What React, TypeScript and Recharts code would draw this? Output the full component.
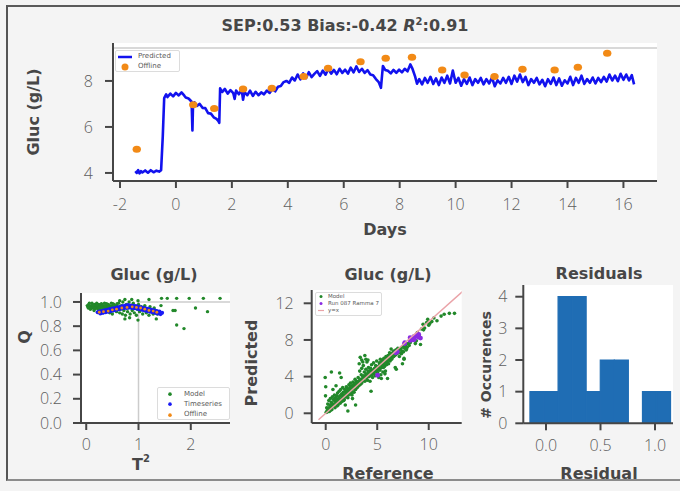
import React from 'react';
import {
  ComposedChart, ScatterChart, BarChart, Line, Scatter, Bar, XAxis, YAxis,
  CartesianGrid, Legend, ReferenceLine,
} from 'recharts';

// ---------------- Top chart: glucose time series ----------------
const predicted: [number, number][] = [
  [-1.45, 4.08], [-1.4, 4.0], [-1.35, 4.12], [-1.3, 3.98], [-1.25, 4.08], [-1.2, 4.02], [-1.1, 4.11], [-1.0, 4.01],
  [-0.9, 4.12], [-0.8, 4.03], [-0.7, 4.1], [-0.6, 4.06], [-0.53, 4.12], [-0.47, 5.6], [-0.42, 7.25], [-0.35, 7.42],
  [-0.3, 7.3], [-0.2, 7.45], [-0.1, 7.33], [0.0, 7.48], [0.1, 7.37], [0.2, 7.5], [0.3, 7.36], [0.35, 7.28],
  [0.45, 7.24], [0.52, 7.15], [0.56, 7.1], [0.59, 5.85], [0.61, 6.9], [0.66, 7.07], [0.75, 6.92], [0.85, 7.0],
  [0.95, 6.83], [1.05, 6.82], [1.15, 6.6], [1.25, 6.58], [1.35, 6.42], [1.45, 6.35], [1.52, 6.25], [1.55, 6.18],
  [1.58, 7.68], [1.65, 7.52], [1.75, 7.65], [1.85, 7.45], [1.95, 7.6], [2.05, 7.47], [2.1, 7.22], [2.15, 7.58],
  [2.25, 7.42], [2.35, 7.62], [2.4, 7.18], [2.45, 7.52], [2.55, 7.38], [2.65, 7.58], [2.75, 7.35], [2.85, 7.53],
  [2.95, 7.38], [3.05, 7.5], [3.15, 7.42], [3.25, 7.58], [3.35, 7.48], [3.45, 7.65], [3.55, 7.55], [3.65, 7.75],
  [3.75, 7.78], [3.85, 7.95], [3.95, 8.0], [4.05, 7.92], [4.15, 8.15], [4.25, 8.02], [4.35, 8.28], [4.45, 8.07],
  [4.55, 8.33], [4.65, 8.12], [4.75, 8.38], [4.85, 8.17], [4.95, 8.31], [5.05, 8.43], [5.15, 8.22], [5.25, 8.45],
  [5.35, 8.27], [5.45, 8.53], [5.55, 8.32], [5.65, 8.48], [5.75, 8.29], [5.85, 8.53], [5.95, 8.35], [6.05, 8.49],
  [6.15, 8.32], [6.25, 8.58], [6.35, 8.37], [6.45, 8.63], [6.55, 8.39], [6.65, 8.53], [6.75, 8.35], [6.85, 8.47],
  [6.95, 8.28], [7.05, 8.25], [7.15, 8.08], [7.25, 7.95], [7.33, 7.7], [7.4, 8.65], [7.48, 8.48], [7.58, 8.44],
  [7.68, 8.33], [7.78, 8.48], [7.88, 8.35], [7.98, 8.49], [8.08, 8.37], [8.18, 8.53], [8.28, 8.42], [8.38, 8.72],
  [8.45, 8.55], [8.55, 8.2], [8.62, 7.88], [8.7, 8.08], [8.8, 7.85], [8.9, 8.13], [9.0, 7.92], [9.1, 8.18],
  [9.2, 7.87], [9.3, 8.11], [9.4, 7.82], [9.5, 8.15], [9.6, 7.92], [9.7, 8.23], [9.8, 7.89], [9.9, 8.45],
  [10.0, 7.92], [10.1, 8.13], [10.2, 7.79], [10.3, 8.08], [10.4, 7.87], [10.5, 8.15], [10.6, 7.82], [10.7, 8.08],
  [10.8, 7.92], [10.9, 8.13], [11.0, 7.85], [11.1, 8.08], [11.2, 7.89], [11.3, 8.15], [11.4, 7.77], [11.5, 8.03],
  [11.6, 7.89], [11.7, 8.13], [11.8, 7.92], [11.9, 8.18], [12.0, 7.87], [12.1, 8.23], [12.2, 7.97], [12.3, 8.28],
  [12.4, 7.95], [12.5, 8.18], [12.6, 7.82], [12.7, 8.08], [12.8, 7.92], [12.9, 8.13], [13.0, 7.85], [13.1, 8.05],
  [13.2, 7.77], [13.3, 8.08], [13.4, 7.87], [13.5, 8.15], [13.6, 7.82], [13.7, 8.11], [13.8, 7.79], [13.9, 8.03],
  [14.0, 7.89], [14.1, 8.18], [14.2, 7.82], [14.3, 8.13], [14.4, 7.92], [14.5, 8.23], [14.6, 7.87], [14.7, 8.08],
  [14.8, 7.92], [14.9, 8.15], [15.0, 7.89], [15.1, 8.13], [15.2, 7.95], [15.3, 8.18], [15.4, 7.97], [15.5, 8.28],
  [15.6, 8.02], [15.7, 8.23], [15.8, 7.99], [15.9, 8.31], [16.0, 8.05], [16.1, 8.28], [16.2, 8.02], [16.3, 8.25],
  [16.38, 7.85],
];
const offline: [number, number][] = [
  [-1.4, 5.03], [0.62, 6.96], [1.37, 6.8], [2.4, 7.65], [3.43, 7.68], [4.57, 8.19], [5.44, 8.55], [6.6, 8.84],
  [7.5, 8.99], [8.44, 9.03], [9.52, 8.48], [10.32, 8.26], [11.39, 8.19], [12.39, 8.51], [13.54, 8.48],
  [14.37, 8.6], [15.42, 9.2],
];
const dayTicks = [-2, 0, 2, 4, 6, 8, 10, 12, 14, 16];
const glucTicks = [4, 6, 8];

// ---------------- Bottom-left: Q vs T² ----------------
const modelQ: [number, number][] = [
  [0.02, 0.97], [0.04, 0.95], [0.05, 0.98], [0.07, 0.96], [0.08, 0.94], [0.1, 0.97], [0.11, 0.99], [0.12, 0.95],
  [0.14, 0.96], [0.15, 0.93], [0.16, 0.98], [0.18, 0.97], [0.19, 0.95], [0.2, 0.99], [0.22, 0.96], [0.23, 0.94],
  [0.24, 0.98], [0.26, 0.97], [0.27, 0.95], [0.28, 0.93], [0.3, 0.98], [0.31, 0.96], [0.33, 0.94], [0.34, 0.97],
  [0.35, 0.99], [0.37, 0.95], [0.38, 0.97], [0.4, 0.93], [0.41, 0.96], [0.42, 0.98], [0.44, 0.94], [0.45, 0.97],
  [0.47, 0.95], [0.48, 0.99], [0.5, 0.96], [0.52, 0.93], [0.53, 0.98], [0.55, 0.95], [0.57, 0.97], [0.58, 0.92],
  [0.6, 0.96], [0.62, 0.99], [0.64, 0.91], [0.65, 0.94], [0.67, 0.97], [0.69, 0.9], [0.7, 1.0], [0.72, 0.93],
  [0.74, 0.96], [0.75, 0.89], [0.77, 0.98], [0.79, 0.92], [0.8, 0.95], [0.82, 1.0], [0.84, 0.9], [0.86, 0.97],
  [0.88, 0.93], [0.9, 0.99], [0.92, 0.91], [0.94, 0.96], [0.96, 0.89], [0.98, 0.94], [1.0, 0.98], [1.02, 0.92],
  [1.05, 0.96], [1.08, 0.9], [1.1, 0.95], [1.12, 0.97], [1.15, 0.91], [1.18, 0.94], [1.2, 0.89], [1.22, 0.96],
  [1.25, 0.92], [1.28, 0.9], [1.3, 0.95], [1.33, 0.93], [1.36, 0.9], [1.4, 0.92], [1.43, 0.97],
  [0.03, 0.96], [0.06, 0.99], [0.09, 0.955], [0.13, 0.975], [0.17, 0.945], [0.21, 0.975], [0.25, 0.955],
  [0.29, 0.985], [0.32, 0.945], [0.36, 0.965], [0.39, 0.985], [0.43, 0.955], [0.46, 0.935], [0.49, 0.965],
  [0.51, 0.985], [0.54, 0.94], [0.56, 0.965], [0.59, 0.985],
  [0.64, 1.01], [0.74, 1.02], [0.87, 1.02], [0.99, 1.01], [1.2, 1.02], [1.44, 1.03], [1.55, 1.03], [1.73, 1.03],
  [1.97, 1.03], [2.24, 1.03], [2.56, 1.03], [1.66, 0.93], [1.7, 0.93], [2.09, 0.95], [2.32, 0.92], [1.73, 0.81],
  [1.87, 0.78], [0.74, 0.86], [0.83, 0.87], [0.99, 0.85], [1.34, 0.86], [0.5, 0.9], [0.45, 0.91], [0.35, 0.92],
];
const timeseriesQ: [number, number][] = [
  [0.22, 0.915], [0.25, 0.92], [0.27, 0.905], [0.3, 0.925], [0.32, 0.91], [0.35, 0.93], [0.37, 0.915], [0.4, 0.935],
  [0.42, 0.92], [0.45, 0.94], [0.47, 0.925], [0.5, 0.945], [0.52, 0.93], [0.55, 0.95], [0.57, 0.935], [0.6, 0.955],
  [0.62, 0.94], [0.65, 0.96], [0.67, 0.945], [0.7, 0.965], [0.72, 0.95], [0.75, 0.97], [0.77, 0.95], [0.8, 0.975],
  [0.82, 0.955], [0.85, 0.97], [0.87, 0.95], [0.9, 0.968], [0.92, 0.948], [0.95, 0.965], [0.97, 0.945], [1.0, 0.96],
  [1.02, 0.94], [1.05, 0.955], [1.07, 0.935], [1.1, 0.95], [1.12, 0.93], [1.15, 0.945], [1.17, 0.925], [1.2, 0.94],
  [1.22, 0.92], [1.25, 0.935], [1.27, 0.915], [1.3, 0.93], [1.32, 0.91], [1.35, 0.925], [1.37, 0.905], [1.4, 0.92],
  [1.42, 0.9], [1.45, 0.91],
];
const offlineQ: [number, number][] = [
  [0.25, 0.915], [0.33, 0.92], [0.42, 0.925], [0.5, 0.935], [0.58, 0.94], [0.68, 0.95], [0.78, 0.955],
  [0.88, 0.96], [0.96, 0.955], [1.04, 0.95], [1.12, 0.94], [1.2, 0.93], [1.28, 0.925], [1.35, 0.915],
];
const t2Ticks = [0, 1, 2];
const qTicks = [0, 0.2, 0.4, 0.6, 0.8, 1.0];
const t2Limit = 1;
const qLimit = 1;

// ---------------- Bottom-middle: predicted vs reference ----------------
const modelPred: [number, number][] = [
  [0.05, 0.1], [0.1, 0.6], [0.15, 0.3], [0.2, 1.0], [0.25, 0.5], [0.3, 1.4], [0.35, 0.2], [0.4, 0.9], [0.45, 1.6],
  [0.5, 0.7], [0.55, 1.2], [0.6, 0.4], [0.65, 1.8], [0.7, 1.0], [0.75, 1.5], [0.8, 0.8], [0.85, 2.0], [0.9, 1.3],
  [0.95, 1.7], [1.0, 1.1], [1.05, 1.9], [1.1, 1.4], [1.15, 2.2], [1.2, 0.9], [1.25, 1.6], [1.3, 2.4], [1.35, 1.2],
  [1.4, 1.9], [1.45, 2.6], [1.5, 1.5], [1.55, 2.1], [1.6, 1.7], [1.65, 2.8], [1.7, 2.3], [1.75, 1.4], [1.8, 2.0],
  [1.85, 2.6], [1.9, 1.8], [1.95, 2.4], [2.0, 2.9], [2.05, 2.1], [2.1, 2.7], [2.15, 1.7], [2.2, 2.5], [2.25, 3.1],
  [2.3, 2.2], [2.35, 2.8], [2.4, 3.3], [2.45, 2.4], [2.5, 3.0], [2.55, 2.0], [2.6, 2.7], [2.65, 3.4], [2.7, 2.9],
  [2.75, 2.3], [2.8, 3.2], [2.85, 3.7], [2.9, 2.6], [2.95, 3.1], [3.0, 3.5], [3.05, 2.8], [3.1, 3.3], [3.15, 3.9],
  [3.2, 3.0], [3.25, 5.4], [3.3, 3.6], [3.35, 6.1], [3.4, 3.2], [3.45, 4.2], [3.5, 5.8], [3.55, 3.5], [3.6, 4.0],
  [3.65, 5.2], [3.7, 3.7], [3.75, 4.5], [3.8, 6.3], [3.85, 3.9], [3.9, 4.8], [3.95, 4.1], [4.0, 5.6], [4.05, 3.6],
  [4.1, 4.3], [4.15, 5.0], [4.2, 4.0], [4.25, 4.6], [4.3, 3.5], [4.35, 4.9], [4.4, 4.2], [4.45, 5.3], [4.5, 4.5],
  [4.55, 3.9], [4.6, 4.7], [4.65, 5.5], [4.7, 4.3], [4.75, 4.9], [4.8, 4.1], [4.85, 5.2], [4.9, 4.6], [4.95, 5.7],
  [5.0, 4.8], [5.05, 4.4], [5.1, 5.1], [5.15, 3.9], [5.2, 5.5], [5.25, 4.7], [5.3, 5.9], [5.35, 4.2], [5.4, 5.3],
  [5.45, 5.0], [5.5, 5.8], [5.55, 4.5], [5.6, 5.4], [5.65, 6.0], [5.7, 5.1], [5.75, 4.3], [5.8, 5.7], [5.85, 6.2],
  [5.9, 5.3], [5.95, 5.9], [6.0, 5.5], [6.05, 6.3], [6.1, 5.4], [6.15, 6.0], [6.2, 6.6], [6.25, 5.7], [6.3, 6.4],
  [6.35, 7.0], [6.4, 5.9], [6.45, 6.5], [6.5, 6.1], [6.6, 6.8], [6.7, 6.3], [6.75, 5.0], [6.8, 6.9], [6.85, 4.8],
  [6.9, 6.5], [7.0, 7.1], [7.05, 6.6], [7.15, 6.2], [7.25, 7.0], [7.35, 6.5], [7.45, 5.4], [7.5, 7.3], [7.6, 6.0],
  [7.7, 7.5], [7.8, 6.9], [7.9, 7.2], [8.0, 7.6], [8.1, 7.4], [8.3, 7.9], [8.5, 8.3], [8.7, 7.6], [8.9, 8.8],
  [9.1, 8.4], [9.3, 9.2], [9.45, 9.7], [9.6, 9.3], [9.8, 9.9], [9.9, 10.25], [10.1, 9.8], [10.5, 10.4],
  [10.8, 10.1], [11.2, 10.6], [11.5, 10.8], [12.0, 10.9], [12.5, 10.9], [-0.05, 3.9], [0.0, 2.9], [-0.02, 1.9],
  [0.55, 4.5], [1.35, 4.4], [1.5, 3.9], [2.15, 0.25], [0.15, 0.15], [1.0, 3.0], [0.7, 2.6], [2.9, 0.9],
  [6.0, 3.8], [7.6, 5.9], [4.4, 2.4], [9.2, 7.5], [8.8, 7.9],
  [0.3, 0.6], [0.45, 0.3], [0.6, 1.0], [0.75, 0.9], [0.9, 0.6], [1.0, 1.6], [1.1, 0.8], [1.2, 1.3], [1.3, 1.8],
  [1.4, 1.1], [1.5, 2.0], [1.6, 1.3], [1.7, 1.9], [1.8, 1.5], [1.9, 2.3], [2.0, 1.8], [2.1, 2.3], [2.2, 2.0],
  [2.3, 2.6], [2.4, 2.1], [2.5, 2.6], [2.6, 2.3], [2.7, 3.1], [2.8, 2.6], [2.9, 3.3], [3.0, 3.0], [3.1, 2.9],
  [3.2, 3.5], [3.3, 3.1], [3.4, 3.7], [3.5, 3.3], [3.6, 3.8], [3.7, 4.1], [3.8, 3.5], [3.9, 4.3], [4.0, 3.9],
  [4.1, 4.6], [4.2, 4.4], [4.3, 4.1], [4.4, 4.7], [4.5, 4.2], [4.6, 4.5], [4.7, 4.8], [4.8, 4.6], [4.9, 5.0],
  [5.0, 4.5], [5.1, 4.8], [5.2, 5.2], [5.3, 4.9], [5.4, 5.6], [5.5, 5.2], [5.6, 5.0], [5.7, 5.6], [5.8, 5.3],
  [5.9, 5.7], [6.0, 6.0], [6.1, 5.8], [6.2, 6.2], [6.3, 5.9], [6.4, 6.3], [6.5, 6.6], [6.6, 6.2], [6.7, 6.6],
  [6.8, 6.4], [6.9, 6.9], [7.0, 6.6], [7.1, 6.9], [7.2, 6.6], [7.3, 7.1], [7.4, 6.8], [7.55, 6.7], [7.65, 7.1],
  [7.75, 7.3], [7.85, 7.0], [8.2, 7.7], [8.4, 8.0], [8.6, 8.4], [9.0, 8.6], [9.5, 9.1], [10.0, 9.6], [10.3, 10.0],
  [3.3, 4.6], [3.6, 5.6], [3.9, 5.9], [3.5, 4.9], [4.1, 5.8], [2.6, 1.6], [1.9, 0.9], [5.4, 3.8], [5.8, 4.6],
];
const runPred: [number, number][] = [
  [5.03, 4.15], [6.96, 6.7], [6.8, 6.6], [7.65, 7.6], [7.68, 7.7], [8.19, 8.25], [8.55, 8.35], [8.84, 8.55],
  [8.99, 8.3], [9.03, 8.6], [8.48, 8.05], [8.26, 8.1], [8.19, 7.95], [8.51, 8.2], [8.48, 8.0], [8.6, 8.05],
  [9.2, 8.2],
];
const identityLine: [number, number][] = [[-0.7, -0.7], [13.3, 13.3]];
const refTicks = [0, 5, 10];
const predTicks = [0, 4, 8, 12];

// ---------------- Bottom-right: residual histogram ----------------
const residualCenters = [-0.0825, 0.0465, 0.1755, 0.3045, 0.4335, 0.5625, 0.6915, 0.8205, 0.9495, 1.0785];
const residualCounts = [1, 1, 4, 4, 1, 2, 2, 0, 1, 1];
const residualTicks = [0, 0.5, 1.0];
const countTicks = [0, 1, 2, 3, 4];

// ---------------- styles ----------------
const FONT = "'DejaVu Sans', 'Liberation Sans', sans-serif";
const TICK_FONT = "'Open Sans', 'DejaVu Sans', sans-serif";
const AXIS = '#464646';
const BLUE_LINE = '#1212ee';
const ORANGE = '#f28a16';
const GREEN = '#22882a';
const BLUE = '#1a1af5';
const PURPLE = '#8a2be2';
const PINK = '#eaa3a8';
const BAR = '#1f6db4';

const tickStyle = { fontFamily: TICK_FONT, fontWeight: 300, fontSize: 16, fill: '#5e5e5e' };
const lineStyle = { stroke: AXIS, strokeWidth: 2 };

const toXY = (arr: [number, number][]) => arr.map(([x, y]) => ({ x, y }));

const AxisTitle = ({ x, y, angle = 0, size = 16, children }: any) => (
  <text
    x={x}
    y={y}
    textAnchor="middle"
    dominantBaseline="central"
    transform={angle ? `rotate(${angle} ${x} ${y})` : undefined}
    fontFamily={FONT}
    fontWeight={700}
    fontSize={size}
    fill="#474747"
  >
    {children}
  </text>
);

const dot = (color: string, r: number) => (p: any) => <circle cx={p.cx} cy={p.cy} r={r} fill={color} />;
const ellipse = (p: any) => <ellipse cx={p.cx} cy={p.cy} rx={4.2} ry={3.5} fill={ORANGE} />;
const noShape = () => <g />;

type LegendCfg = {
  order: string[];
  width: number;
  height: number;
  rowH: number;
  padTop: number;
  markerW: number;
  gap: number;
  fontSize: number;
  dotR: number;
  lineW: number;
};

const makeLegend = (cfg: LegendCfg) => (props: any) => {
  const payload: any[] = props.payload || [];
  const items = cfg.order
    .map((name) => payload.find((e) => e.value === name))
    .filter(Boolean);
  return (
    <div
      style={{
        width: cfg.width,
        height: cfg.height,
        boxSizing: 'border-box',
        background: '#ffffff',
        border: '1px solid #dcdcdc',
        borderRadius: 2,
        paddingTop: cfg.padTop,
      }}
    >
      {items.map((e: any) => (
        <div key={e.value} style={{ display: 'flex', alignItems: 'center', height: cfg.rowH }}>
          <svg width={cfg.markerW} height={cfg.rowH} style={{ flex: 'none' }}>
            {e.type === 'line' ? (
              <line x1={2} x2={cfg.markerW - 2} y1={cfg.rowH / 2} y2={cfg.rowH / 2} stroke={e.color} strokeWidth={cfg.lineW} />
            ) : (
              <circle cx={cfg.markerW / 2} cy={cfg.rowH / 2} r={cfg.dotR} fill={e.color} />
            )}
          </svg>
          <span
            style={{
              marginLeft: cfg.gap,
              fontFamily: FONT,
              fontSize: cfg.fontSize,
              color: '#5a5a5a',
              lineHeight: 1,
              whiteSpace: 'nowrap',
            }}
          >
            {e.value}
          </span>
        </div>
      ))}
    </div>
  );
};

const topLegend = makeLegend({
  order: ['Predicted', 'Offline'], width: 65, height: 22, rowH: 10, padTop: 0.5, markerW: 18, gap: 4, fontSize: 7, dotR: 3.5, lineW: 2.5,
});
const qLegend = makeLegend({
  order: ['Model', 'Timeseries', 'Offline'], width: 73, height: 33, rowH: 10.3, padTop: 1, markerW: 24, gap: 2, fontSize: 7, dotR: 1.8, lineW: 1.5,
});
const predLegend = makeLegend({
  order: ['Model', 'Run 087 Ramma 7', 'y=x'], width: 67, height: 24, rowH: 7, padTop: 0.5, markerW: 10, gap: 2, fontSize: 5.5, dotR: 1.5, lineW: 1.2,
});

export default function App() {
  const predictedData = toXY(predicted);
  const offlineData = toXY(offline);
  const histData = residualCenters.map((x, i) => ({ x, y: residualCounts[i] }));

  return (
    <div style={{ position: 'fixed', left: 0, top: 0, width: 680, height: 491, background: '#f4f4f4', overflow: 'hidden' }}>
      <div
        style={{
          position: 'absolute', left: 6, top: 5, width: 700, height: 472,
          borderLeft: '2px solid #555', borderTop: '2px solid #5a5a5a', borderBottom: '2px solid #8c8c8c',
        }}
      />

      {/* Top time-series chart */}
      <div style={{ position: 'absolute', left: 0, top: 0 }}>
        <ComposedChart width={680} height={250} margin={{ top: 43, right: 23, bottom: 9, left: 33 }}>
          <CartesianGrid horizontal={false} vertical={false} fill="#ffffff" />
          <XAxis
            type="number" dataKey="x" domain={[-2.25, 17.2]} ticks={dayTicks} allowDataOverflow interval={0}
            height={60} tickSize={7} tickMargin={11} axisLine={lineStyle} tickLine={lineStyle} tick={tickStyle}
            label={() => <AxisTitle x={385} y={229.5}>Days</AxisTitle>}
          />
          <YAxis
            type="number" dataKey="y" domain={[3.65, 9.65]} ticks={glucTicks} allowDataOverflow interval={0}
            width={80} tickSize={8} tickMargin={12} axisLine={lineStyle} tickLine={lineStyle} tick={tickStyle}
            label={() => <AxisTitle x={33} y={112} angle={-90}>Gluc (g/L)</AxisTitle>}
          />
          <ReferenceLine y={9.43} stroke="#cdcdcd" strokeWidth={1.5} />
          <Line
            data={predictedData} dataKey="y" name="Predicted" type="linear" stroke={BLUE_LINE} strokeWidth={2.6}
            strokeLinejoin="round" dot={false} activeDot={false} isAnimationActive={false}
          />
          <Scatter data={offlineData} dataKey="y" name="Offline" fill={ORANGE} shape={ellipse} isAnimationActive={false} />
          <Legend
            layout="vertical" align="center" verticalAlign="middle" content={topLegend}
            wrapperStyle={{ left: 115, top: 50, width: 65, height: 22 }}
          />
        </ComposedChart>
      </div>

      {/* Bottom-left: Q vs T² */}
      <div style={{ position: 'absolute', left: 0, top: 250 }}>
        <ScatterChart width={236} height={241} margin={{ top: 43, right: 6, bottom: 28, left: 21 }}>
          <CartesianGrid horizontal={false} vertical={false} fill="#ffffff" />
          <XAxis
            type="number" dataKey="x" domain={[-0.1, 2.75]} ticks={t2Ticks} allowDataOverflow interval={0}
            height={40} tickSize={7} tickMargin={9} axisLine={lineStyle} tickLine={lineStyle} tick={tickStyle}
            label={() => (
              <AxisTitle x={141} y={214}>
                T<tspan dy={-6} fontSize={10}>2</tspan>
              </AxisTitle>
            )}
          />
          <YAxis
            type="number" dataKey="y" domain={[0, 1.074]} ticks={qTicks} allowDataOverflow interval={0}
            width={60} tickSize={8} tickMargin={11} axisLine={lineStyle} tickLine={lineStyle} tick={tickStyle}
            tickFormatter={(v: number) => v.toFixed(1)}
            label={() => <AxisTitle x={24} y={87} angle={-90}>Q</AxisTitle>}
          />
          <ReferenceLine segment={[{ x: t2Limit, y: 0 }, { x: t2Limit, y: qLimit }]} stroke="#cccccc" strokeWidth={1.5} />
          <ReferenceLine segment={[{ x: t2Limit, y: qLimit }, { x: 2.75, y: qLimit }]} stroke="#cccccc" strokeWidth={1.5} />
          <Scatter data={toXY(modelQ)} name="Model" fill={GREEN} shape={dot(GREEN, 1.7)} isAnimationActive={false} />
          <Scatter data={toXY(timeseriesQ)} name="Timeseries" fill={BLUE} shape={dot(BLUE, 2.1)} isAnimationActive={false} />
          <Scatter data={toXY(offlineQ)} name="Offline" fill={ORANGE} shape={dot(ORANGE, 1.4)} isAnimationActive={false} />
          <Legend
            layout="vertical" align="center" verticalAlign="middle" content={qLegend}
            wrapperStyle={{ left: 157, top: 137, width: 73, height: 33 }}
          />
        </ScatterChart>
      </div>

      {/* Bottom-middle: predicted vs reference */}
      <div style={{ position: 'absolute', left: 236, top: 250 }}>
        <ScatterChart width={230} height={241} margin={{ top: 40, right: 4.3, bottom: 28, left: 15.7 }}>
          <CartesianGrid horizontal={false} vertical={false} fill="#ffffff" />
          <XAxis
            type="number" dataKey="x" domain={[-1.36, 13.2]} ticks={refTicks} allowDataOverflow interval={0}
            height={40} tickSize={7} tickMargin={9} axisLine={lineStyle} tickLine={lineStyle} tick={tickStyle}
            label={() => <AxisTitle x={152} y={223}>Reference</AxisTitle>}
          />
          <YAxis
            type="number" dataKey="y" domain={[-1.06, 13.45]} ticks={predTicks} allowDataOverflow interval={0}
            width={60} tickSize={8} tickMargin={10} axisLine={lineStyle} tickLine={lineStyle} tick={tickStyle}
            label={() => <AxisTitle x={15} y={113} angle={-90}>Predicted</AxisTitle>}
          />
          <Scatter data={toXY(modelPred)} name="Model" fill={GREEN} shape={dot(GREEN, 1.8)} isAnimationActive={false} />
          <Scatter data={toXY(runPred)} name="Run 087 Ramma 7" fill={PURPLE} shape={dot(PURPLE, 2.4)} isAnimationActive={false} />
          <Scatter
            data={toXY(identityLine)} name="y=x" fill={PINK} legendType="line"
            line={{ stroke: PINK, strokeWidth: 1.5 }} shape={noShape} isAnimationActive={false}
          />
          <Legend
            layout="vertical" align="center" verticalAlign="middle" content={predLegend}
            wrapperStyle={{ left: 79, top: 41.5, width: 67, height: 24 }}
          />
        </ScatterChart>
      </div>

      {/* Bottom-right: residual histogram */}
      <div style={{ position: 'absolute', left: 466, top: 250 }}>
        <BarChart
          width={214} height={241} data={histData} barCategoryGap={0} barGap={0}
          margin={{ top: 35, right: 7, bottom: 27.7, left: 7.3 }}
        >
          <CartesianGrid horizontal={false} vertical={false} fill="#ffffff" />
          <XAxis
            type="number" dataKey="x" domain={[-0.208, 1.165]} ticks={residualTicks} allowDataOverflow interval={0}
            height={40} tickSize={7} tickMargin={9} axisLine={lineStyle} tickLine={lineStyle} tick={tickStyle}
            tickFormatter={(v: number) => v.toFixed(1)}
            label={() => <AxisTitle x={133} y={223}>Residual</AxisTitle>}
          />
          <YAxis
            type="number" domain={[0, 4.37]} ticks={countTicks} allowDataOverflow interval={0}
            width={50} tickSize={8} tickMargin={8} axisLine={lineStyle} tickLine={lineStyle} tick={tickStyle}
            label={() => <AxisTitle x={20} y={115} angle={-90} size={14}># Occurences</AxisTitle>}
          />
          <Bar dataKey="y" fill={BAR} stroke={BAR} strokeWidth={1.2} isAnimationActive={false} />
        </BarChart>
      </div>

      {/* Titles */}
      <svg width={680} height={491} style={{ position: 'absolute', left: 0, top: 0, pointerEvents: 'none' }}>
        <g fontFamily={FONT} fontWeight={700} fontSize={16} fill="#474747" textAnchor="middle">
          <text x={345} y={31}>
            {'SEP:0.53 Bias:-0.42 '}
            <tspan fontStyle="italic">R</tspan>
            <tspan dy={-6} fontSize={10}>2</tspan>
            <tspan dy={6}>:0.91</tspan>
          </text>
          <text x={154} y={280}>Gluc (g/L)</text>
          <text x={388} y={280}>Gluc (g/L)</text>
          <text x={599} y={279}>Residuals</text>
        </g>
      </svg>
    </div>
  );
}
